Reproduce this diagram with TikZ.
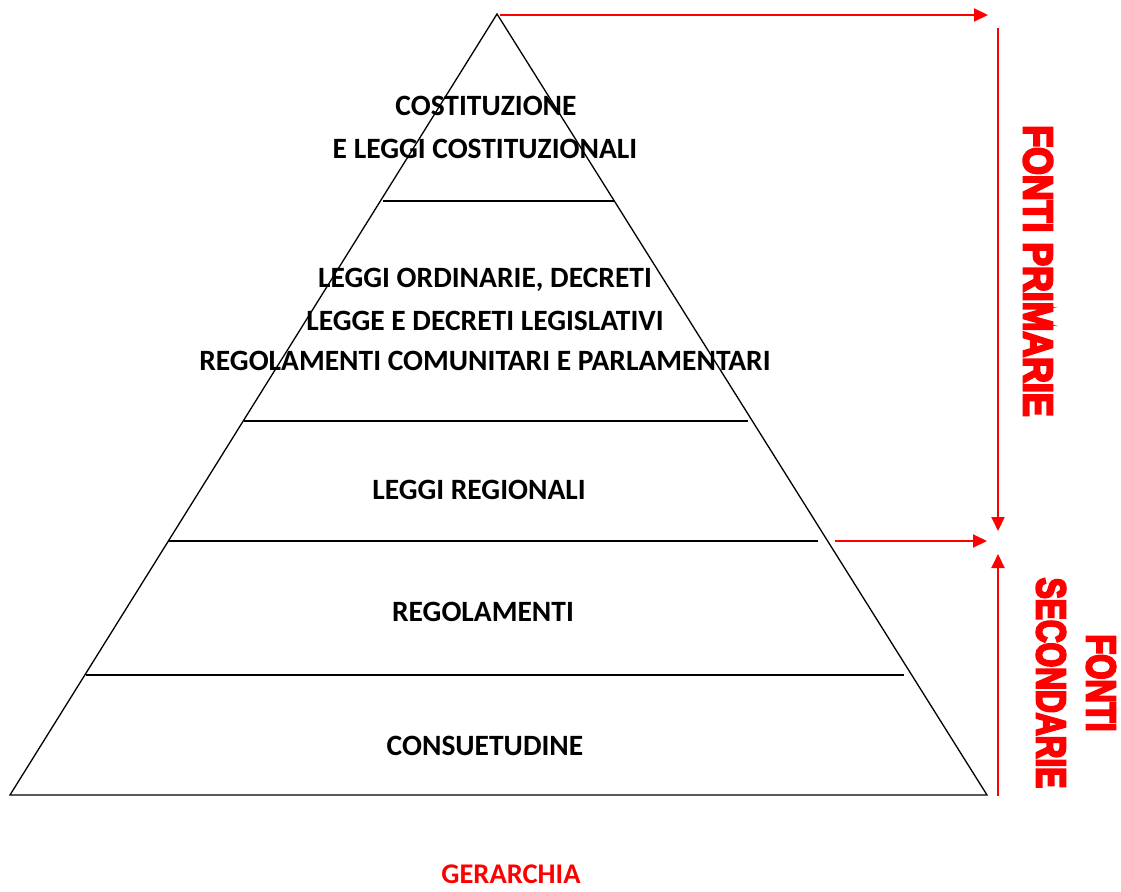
\documentclass[tikz,border=0pt]{standalone}
\usepackage{fontspec}
\setmainfont{Carlito}
\newfontfamily\redfont[BoldFeatures={FakeBold=6}]{Liberation Sans}
\usetikzlibrary{arrows.meta}
\definecolor{fred}{RGB}{255,0,0}
\tikzset{
  lbl/.style={font=\fontsize{29.5}{34}\selectfont\bfseries, inner sep=0pt, anchor=center},
  redlbl/.style={font=\fontsize{41}{50}\selectfont\redfont\bfseries, text=fred, inner sep=0pt, rotate=-90, align=center},
  divider/.style={black, line width=1.3pt},
  edge/.style={black, line width=1.3pt},
  redarrow/.style={fred, line width=2pt, -{Triangle[length=14pt,width=13pt]}},
  redline/.style={fred, line width=2pt}
}
\begin{document}
\begin{tikzpicture}[x=1pt,y=-1pt]
\useasboundingbox (0,0) rectangle (1121,891);
% pyramid
\coordinate (apex) at (497,14);
\coordinate (bl) at (10,795);
\coordinate (br) at (987,795);
\draw[edge] (bl) -- (apex) -- (br) -- cycle;
% dividers
\coordinate (d1l) at (383,201); \coordinate (d1r) at (614,201);
\coordinate (d2l) at (244,421); \coordinate (d2r) at (748,421);
\coordinate (d3l) at (168,541); \coordinate (d3r) at (818,541);
\coordinate (d4l) at (86,675);  \coordinate (d4r) at (904,675);
\draw[divider] (d1l) -- (d1r);
\draw[divider] (d2l) -- (d2r);
\draw[divider] (d3l) -- (d3r);
\draw[divider] (d4l) -- (d4r);
% labels
\node[lbl] (t1a) at (486,106) {COSTITUZIONE};
\node[lbl] (t1b) at (485,149) {E LEGGI COSTITUZIONALI};
\node[lbl] (t2a) at (485,280) {LEGGI ORDINARIE, DECRETI};
\node[lbl] (t2b) at (485,321) {LEGGE E DECRETI LEGISLATIVI};
\node[lbl] (t2c) at (485,361) {REGOLAMENTI COMUNITARI E PARLAMENTARI};
\node[lbl] (t3) at (479,490) {LEGGI REGIONALI};
\node[lbl] (t4) at (483,612) {REGOLAMENTI};
\node[lbl] (t5) at (485,746) {CONSUETUDINE};
\node[lbl, text=fred, font=\fontsize{28.5}{34}\selectfont\bfseries] (ger) at (511,874) {GERARCHIA};
% red arrows
\coordinate (a1s) at (500,15); \coordinate (a1e) at (988,15);
\coordinate (v1s) at (998,28); \coordinate (v1e) at (998,531);
\coordinate (a2s) at (835,541); \coordinate (a2e) at (987,541);
\coordinate (v2s) at (998,796); \coordinate (v2e) at (998,554);
\draw[redarrow] (a1s) -- (a1e);
\draw[redarrow] (v1s) -- (v1e);
\draw[redarrow] (a2s) -- (a2e);
\draw[redarrow] (v2s) -- (v2e);
% red side labels
\node[redlbl] (prim) at (1038,271) {\scalebox{0.87}[1]{FONTI PRIMARIE}};
\node[redlbl] (sec1) at (1101,683) {\scalebox{0.79}[1]{FONTI}};
\node[redlbl] (sec2) at (1051,683) {\scalebox{0.77}[1]{SECONDARIE}};
\end{tikzpicture}
\end{document}
